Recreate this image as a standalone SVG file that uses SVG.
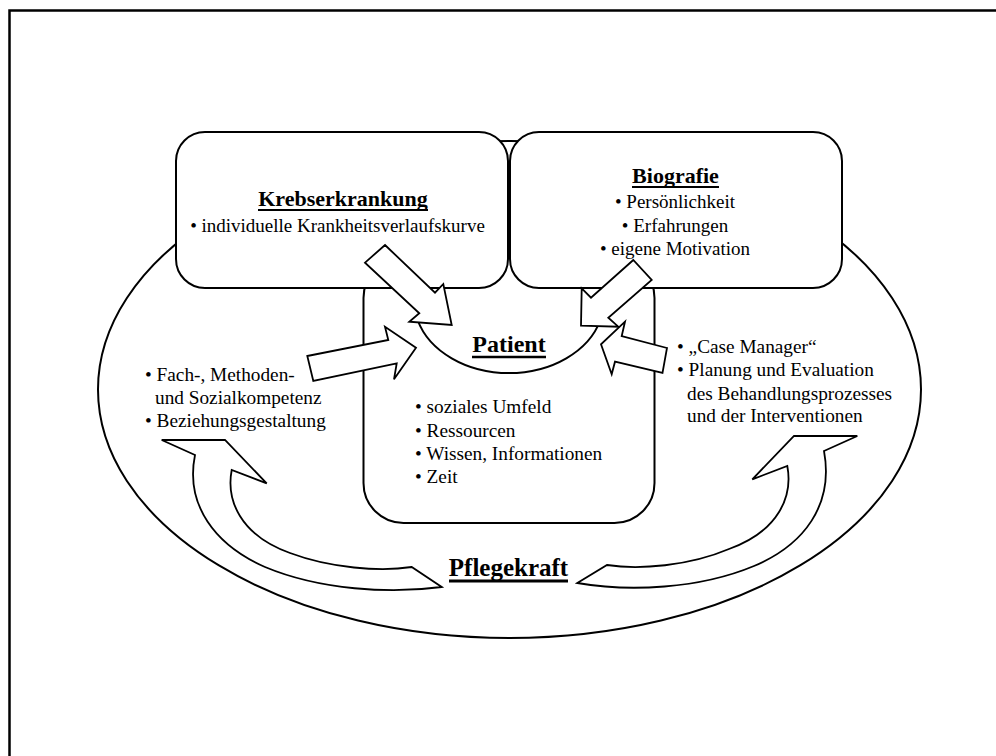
<svg xmlns="http://www.w3.org/2000/svg" width="996" height="756" viewBox="0 0 996 756">
<style>
.frame{fill:none;stroke:#000;stroke-width:2.5}
.shape{fill:#fff;stroke:#000;stroke-width:2}
.arr{fill:#fff;stroke:#000;stroke-width:1.8;stroke-linejoin:miter}
.line{fill:none;stroke:#000;stroke-width:2}
.ul{stroke:#000;fill:none}
.t{font-weight:bold;font-size:22px;text-anchor:middle}
.big{font-weight:bold;font-size:24px;text-anchor:middle}
.c{font-size:19px;text-anchor:middle}
.l{font-size:19.3px}
</style>
<rect class="frame" x="9.5" y="10.5" width="1000" height="760"/>
<g id="pflegekraft-ellipse">
<ellipse class="shape" cx="509.5" cy="389.5" rx="411.5" ry="248.5"/>
</g>
<g id="patient-box">
<rect class="shape" x="363.5" y="258" width="291" height="265" rx="40" ry="40"/>
</g>
<g font-family="'Liberation Serif', 'DejaVu Serif', serif" fill="#000">
<g id="krebserkrankung">
<rect class="shape" x="176" y="132" width="332" height="156" rx="29" ry="29"/>
<text class="t" x="343" y="206" font-family="Liberation Serif">Krebserkrankung</text>
<line class="ul" x1="258" y1="210" x2="428" y2="210" stroke-width="2"/>
<text class="c" x="337.5" y="232" font-family="Liberation Serif">• individuelle Krankheitsverlaufskurve</text>
</g>
<g id="biografie">
<rect class="shape" x="510" y="132" width="332" height="156" rx="29" ry="29"/>
<text class="t" x="675.5" y="183" font-family="Liberation Serif">Biografie</text>
<line class="ul" x1="632" y1="187" x2="719" y2="187" stroke-width="2"/>
<text class="c" x="675" y="208" font-family="Liberation Serif">• Persönlichkeit</text>
<text class="c" x="675" y="232" font-family="Liberation Serif">• Erfahrungen</text>
<text class="c" x="675" y="255" font-family="Liberation Serif">• eigene Motivation</text>
</g>
<g id="patient">
<path class="line" d="M 417.6 320 A 95 73 0 0 0 600.4 320"/>
<text class="big" x="509" y="352" font-family="Liberation Serif">Patient</text>
<line class="ul" x1="472" y1="357" x2="546" y2="357" stroke-width="2.5"/>
<text class="l" x="415" y="413" font-family="Liberation Serif">• soziales Umfeld</text>
<text class="l" x="415" y="437" font-family="Liberation Serif">• Ressourcen</text>
<text class="l" x="415" y="460" font-family="Liberation Serif">• Wissen, Informationen</text>
<text class="l" x="415" y="483" font-family="Liberation Serif">• Zeit</text>
</g>
<g id="pflegekraft">
<text class="big" x="508.5" y="576" font-size="25" style="font-size:25px" font-family="Liberation Serif">Pflegekraft</text>
<line class="ul" x1="449" y1="581" x2="568" y2="581" stroke-width="3"/>
</g>
<g id="kompetenz">
<text class="l" x="145" y="381" font-family="Liberation Serif">• Fach-, Methoden-</text>
<text class="l" x="155" y="404" font-family="Liberation Serif">und Sozialkompetenz</text>
<text class="l" x="145" y="427" font-family="Liberation Serif">• Beziehungsgestaltung</text>
</g>
<g id="case-manager">
<text class="l" x="677" y="353" font-family="Liberation Serif">• „Case Manager“</text>
<text class="l" x="677" y="376" font-family="Liberation Serif">• Planung und Evaluation</text>
<text class="l" x="687" y="400" font-family="Liberation Serif">des Behandlungsprozesses</text>
<text class="l" x="687" y="422" font-family="Liberation Serif">und der Interventionen</text>
</g>
</g>
<g id="connectors">
<path class="arr" d="M 195 455 L 161.7 440 L 225 440 L 266.7 483.3 L 231.7 470 C 226 500, 240 535, 290 553 C 330 568, 380 572, 411.7 567 L 441.7 587 C 390 594, 320 590, 265 567 C 215 545, 185 505, 195 455 Z"/>
<path class="arr" d="M 824 451 L 857.3 436 L 794 436 L 752.3 479.3 L 787.3 466 C 793 496, 779 531, 729 549 C 689 566, 639 570, 607 565 L 577.3 583 C 629 592, 699 589, 754 566 C 804 545, 834 505, 824 451 Z"/>
<polygon class="arr" points="385,245 435,292.7 443.3,284 451.7,325 409.3,321.7 419.3,313.3 365,262.7"/>
<polygon class="arr" points="633.3,260 591,297.7 581.7,288.3 581,325.7 618.3,326.7 608.3,317.7 651.7,280"/>
<polygon class="arr" points="307.3,356 388.3,340 385,326.7 416,347.7 394,379.3 396.7,363.3 313.3,381"/>
<polygon class="arr" points="667,348 621.7,336 625,321.7 601,344.3 611.7,374.3 615,361.7 662.5,373"/>
</g>
</svg>
